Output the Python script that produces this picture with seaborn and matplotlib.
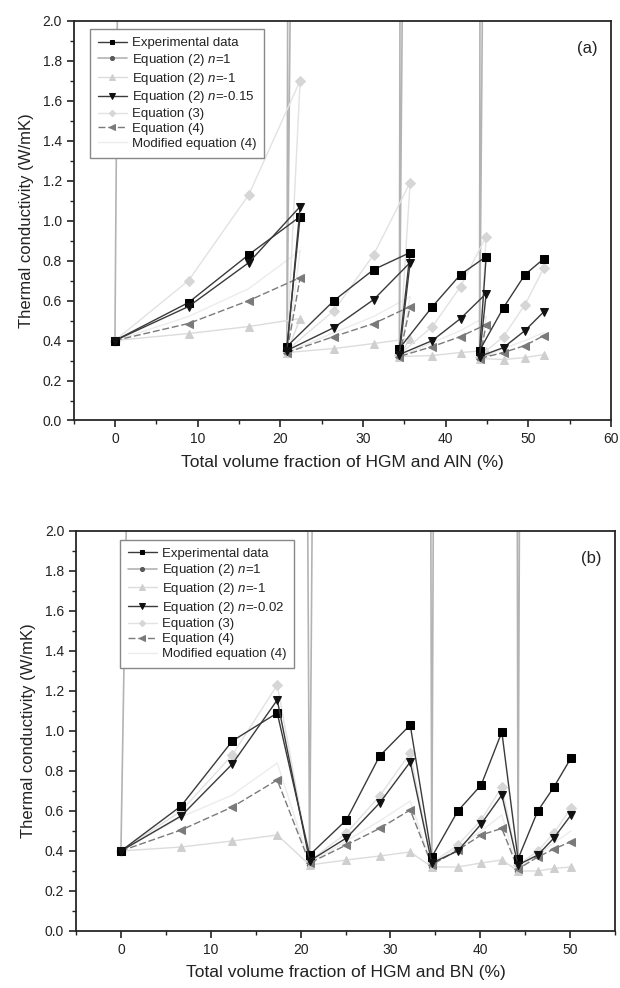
import numpy as np
import matplotlib
matplotlib.use("Agg")
import matplotlib.pyplot as plt
from matplotlib.ticker import MultipleLocator
import seaborn as sns

# ----- data -----
# panel (a): HGM + AlN
xa = [0, 8.9, 16.2, 22.4, 20.8, 26.5, 31.3, 35.7, 34.4, 38.4, 41.8, 44.9, 44.1, 47.0, 49.6, 51.9]
exp_a = [0.40, 0.59, 0.83, 1.02, 0.37, 0.60, 0.755, 0.84, 0.36, 0.57, 0.73, 0.82, 0.35, 0.565, 0.73, 0.81]
n1_a = [0.40, 50, 40, 30, 0.34, 25, 30, 30, 0.32, 20, 30, 30, 0.31, 15, 30, 30]
nm1_a = [0.40, 0.435, 0.47, 0.51, 0.34, 0.36, 0.385, 0.41, 0.32, 0.325, 0.34, 0.35, 0.31, 0.305, 0.315, 0.33]
nfit_a = [0.40, 0.57, 0.79, 1.07, 0.35, 0.465, 0.605, 0.79, 0.33, 0.40, 0.51, 0.635, 0.32, 0.365, 0.45, 0.545]
eq3_a = [0.40, 0.70, 1.13, 1.70, 0.35, 0.55, 0.83, 1.19, 0.33, 0.47, 0.67, 0.92, 0.32, 0.42, 0.58, 0.765]
eq4_a = [0.40, 0.485, 0.60, 0.715, 0.34, 0.42, 0.485, 0.57, 0.32, 0.37, 0.42, 0.48, 0.31, 0.34, 0.375, 0.425]
mod_a = [0.40, 0.52, 0.66, 0.85, 0.34, 0.44, 0.52, 0.62, 0.32, 0.39, 0.45, 0.52, 0.31, 0.36, 0.40, 0.44]

# panel (b): HGM + BN
xb = [0, 6.7, 12.4, 17.4, 21.0, 25.1, 28.8, 32.2, 34.6, 37.5, 40.1, 42.4, 44.2, 46.4, 48.2, 50.1]
exp_b = [0.40, 0.625, 0.95, 1.09, 0.38, 0.555, 0.875, 1.03, 0.37, 0.60, 0.73, 0.995, 0.36, 0.60, 0.72, 0.865]
n1_b = [0.40, 18.7, 30, 30, 0.33, 25, 30, 40, 0.32, 30, 30, 40, 0.30, 25, 30, 30]
nm1_b = [0.40, 0.42, 0.45, 0.48, 0.33, 0.355, 0.375, 0.395, 0.32, 0.32, 0.34, 0.355, 0.30, 0.30, 0.313, 0.32]
nfit_b = [0.40, 0.575, 0.835, 1.155, 0.35, 0.465, 0.64, 0.845, 0.34, 0.40, 0.535, 0.68, 0.33, 0.38, 0.465, 0.58]
eq3_b = [0.40, 0.60, 0.88, 1.23, 0.35, 0.49, 0.675, 0.89, 0.34, 0.43, 0.555, 0.72, 0.33, 0.40, 0.49, 0.615]
eq4_b = [0.40, 0.505, 0.62, 0.755, 0.34, 0.43, 0.513, 0.605, 0.33, 0.405, 0.48, 0.513, 0.31, 0.37, 0.41, 0.447]
mod_b = [0.40, 0.57, 0.68, 0.84, 0.34, 0.45, 0.55, 0.65, 0.33, 0.42, 0.50, 0.58, 0.31, 0.38, 0.44, 0.50]

# ----- global look -----
sns.set_style("ticks")
plt.rcParams.update({
    "font.family": ["Liberation Sans", "DejaVu Sans"],
    "mathtext.fontset": "custom",
    "mathtext.it": "Liberation Sans:italic",
    "mathtext.rm": "Liberation Sans",
    "axes.linewidth": 1.3,
    "xtick.direction": "out",
    "ytick.direction": "out",
    "text.color": "#222222",
    "axes.labelcolor": "#222222",
    "xtick.color": "#222222",
    "ytick.color": "#222222",
})

# style for each series (legend order)
styles = [
    dict(color="#3a3a3a", marker="s", ms=5.5, mfc="black", mec="black", lw=1.0, ls="-"),
    dict(color="#b3b3b3", marker="o", ms=4.5, mfc="#5a5a5a", mec="#5a5a5a", lw=1.2, ls="-"),
    dict(color="#dcdcdc", marker="^", ms=6, mfc="#cfcfcf", mec="#cfcfcf", lw=1.0, ls="-"),
    dict(color="#3a3a3a", marker="v", ms=6, mfc="#111111", mec="#111111", lw=1.0, ls="-"),
    dict(color="#e2e2e2", marker="D", ms=5, mfc="#d6d6d6", mec="#d6d6d6", lw=1.0, ls="-"),
    dict(color="#7a7a7a", marker="<", ms=6, mfc="#7a7a7a", mec="#7a7a7a", lw=1.0, ls=(0, (5, 2))),
    dict(color="#ececec", marker="None", ms=0, mfc="none", mec="none", lw=1.0, ls="-"),
]


def draw_panel(ax, x, series, labels, xmax, xlabel, tag, leg_x):
    order = [6, 1, 2, 4, 5, 0, 3]  # faint ones first, dark ones on top
    handles = {}
    for i in order:
        st = styles[i]
        sns.lineplot(x=x, y=series[i], sort=False, estimator=None, ax=ax,
                     color=st["color"], marker=st["marker"], markersize=st["ms"],
                     markerfacecolor=st["mfc"], markeredgecolor=st["mec"],
                     linewidth=st["lw"], linestyle=st["ls"], label=labels[i])
        handles[i] = ax.lines[-1]
    ax.set_xlim(-5, xmax)
    ax.set_ylim(0, 2.0)
    ax.xaxis.set_major_locator(MultipleLocator(10))
    ax.xaxis.set_minor_locator(MultipleLocator(5))
    ax.yaxis.set_major_locator(MultipleLocator(0.2))
    ax.yaxis.set_minor_locator(MultipleLocator(0.1))
    ax.yaxis.set_major_formatter(matplotlib.ticker.FormatStrFormatter("%.1f"))
    ax.tick_params(which="major", length=5, width=1.2, labelsize=10)
    ax.tick_params(which="minor", length=3, width=1.0)
    ax.set_xlabel(xlabel, fontsize=12.5, labelpad=6)
    ax.set_ylabel("Thermal conductivity (W/mK)", fontsize=12, labelpad=6)
    ax.text(0.975, 0.93, tag, transform=ax.transAxes, ha="right", va="center", fontsize=12)
    leg = ax.legend([handles[i] for i in range(7)], labels, loc="upper left",
                    bbox_to_anchor=(leg_x, 0.995), fontsize=9.5, frameon=True,
                    fancybox=False, framealpha=1, edgecolor="#888888",
                    handlelength=2.2, labelspacing=0.2, borderpad=0.6,
                    handletextpad=0.4, markerscale=0.65)
    leg.get_frame().set_linewidth(1.0)
    leg.set_zorder(10)


fig = plt.figure(figsize=(6.2, 9.88), dpi=100)
ax1 = fig.add_axes([0.1187, 0.5744, 0.8668, 0.4047])
ax2 = fig.add_axes([0.1226, 0.0577, 0.8694, 0.4049])

labels_a = ["Experimental data", "Equation (2) $n$=1", "Equation (2) $n$=-1",
            "Equation (2) $n$=-0.15", "Equation (3)", "Equation (4)", "Modified equation (4)"]
labels_b = ["Experimental data", "Equation (2) $n$=1", "Equation (2) $n$=-1",
            "Equation (2) $n$=-0.02", "Equation (3)", "Equation (4)", "Modified equation (4)"]

draw_panel(ax1, xa, [exp_a, n1_a, nm1_a, nfit_a, eq3_a, eq4_a, mod_a], labels_a, 60,
           "Total volume fraction of HGM and AlN (%)", "(a)", 0.0175)
draw_panel(ax2, xb, [exp_b, n1_b, nm1_b, nfit_b, eq3_b, eq4_b, mod_b], labels_b, 55,
           "Total volume fraction of HGM and BN (%)", "(b)", 0.0686)

plt.savefig("out.png", dpi=100)
